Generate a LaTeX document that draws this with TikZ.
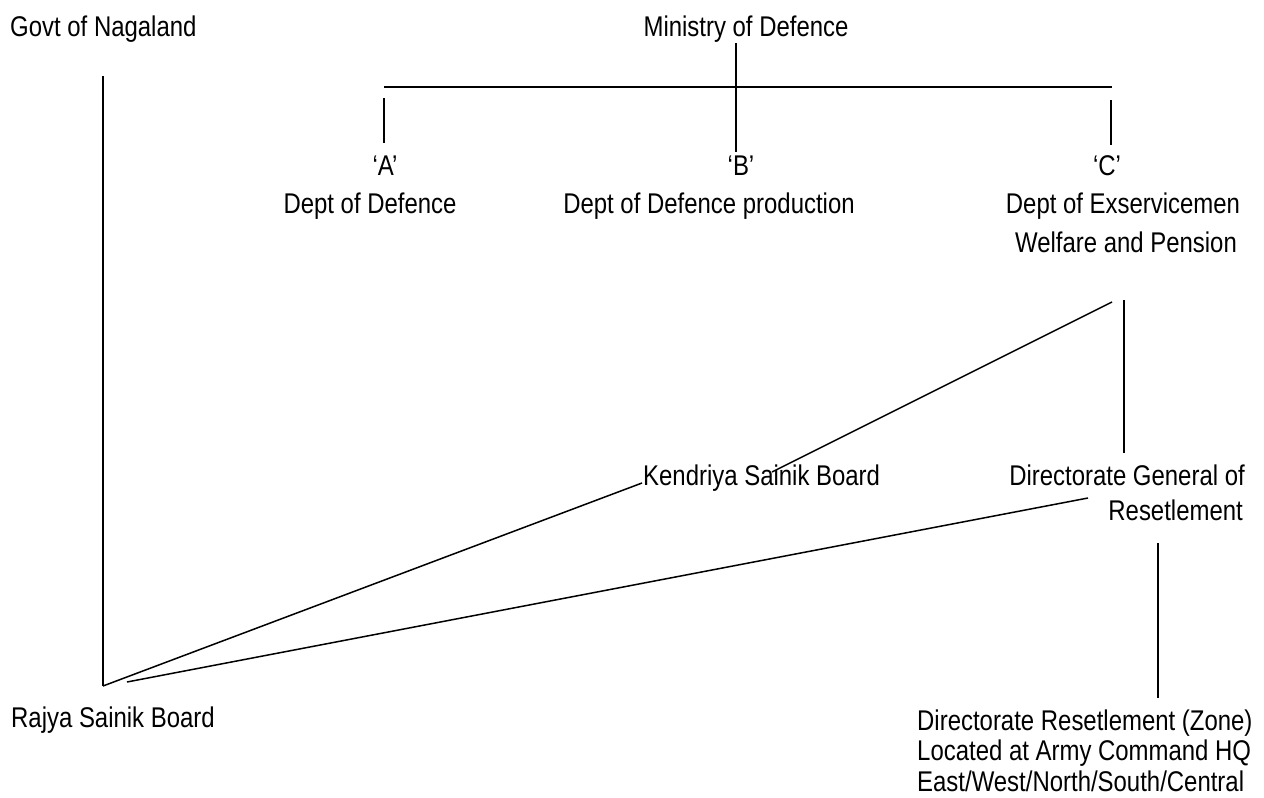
\documentclass[tikz,border=0pt]{standalone}
\usepackage{fontspec}
\setmainfont[FakeStretch=0.84]{Liberation Sans}
\begin{document}
\begin{tikzpicture}[x=1pt,y=-1pt,
  txt/.style={inner sep=0pt, font=\fontsize{28.5}{30}\selectfont},
  conn/.style={line width=1.5pt, line cap=butt}]
\useasboundingbox (0,0) rectangle (1264,798);
% texts
\node[txt, anchor=base west] (govt) at (10,36) {Govt of Nagaland};
\node[txt, anchor=base] (mod) at (746,36) {Ministry of Defence};
\node[txt, anchor=base] (qa) at (385,175) {‘A’};
\node[txt, anchor=base] (dd) at (370,213) {Dept of Defence};
\node[txt, anchor=base] (qb) at (741,175) {‘B’};
\node[txt, anchor=base] (ddp) at (709,213) {Dept of Defence production};
\node[txt, anchor=base] (qc) at (1107,175) {‘C’};
\node[txt, anchor=base] (dew) at (1123,213) {Dept of Exservicemen};
\node[txt, anchor=base] (wp) at (1126,252) {Welfare and Pension};
\node[txt, anchor=base west] (ksb) at (643,485) {Kendriya Sainik Board};
\node[txt, anchor=base east] (dgr1) at (1245,485) {Directorate General of};
\node[txt, anchor=base east] (dgr2) at (1243,520) {Resetlement};
\node[txt, anchor=base west] (rsb) at (11,727) {Rajya Sainik Board};
\node[txt, anchor=base west] (drz1) at (917,730) {Directorate Resetlement (Zone)};
\node[txt, anchor=base west] (drz2) at (917,760) {Located at Army Command HQ};
\node[txt, anchor=base west] (drz3) at (917,791) {East/West/North/South/Central};
% connector end points
\coordinate (govtL) at (103,76);
\coordinate (rsbA) at (103,686);
\coordinate (rsbB) at (127,682);
\coordinate (modL) at (736,43);
\coordinate (qbT) at (736,152);
\coordinate (barL) at (384,87);
\coordinate (barR) at (1112,87);
\coordinate (qaT1) at (384,98);
\coordinate (qaT2) at (384,143);
\coordinate (qcT1) at (1111,100);
\coordinate (qcT2) at (1111,145);
\coordinate (wpV1) at (1124,300);
\coordinate (wpV2) at (1124,453);
\coordinate (wpD) at (1112,302);
\coordinate (ksbIn) at (772,472);
\coordinate (ksbL) at (642,483);
\coordinate (dgrL) at (1088,498);
\coordinate (dgrV1) at (1158,543);
\coordinate (drzV) at (1158,698);
% connectors
\draw[conn] (govtL) -- (rsbA);
\draw[conn] (modL) -- (qbT);
\draw[conn] (barL) -- (barR);
\draw[conn] (qaT1) -- (qaT2);
\draw[conn] (qcT1) -- (qcT2);
\draw[conn] (wpV1) -- (wpV2);
\draw[conn] (wpD) -- (ksbIn);
\draw[conn] (ksbL) -- (rsbA);
\draw[conn] (dgrL) -- (rsbB);
\draw[conn] (dgrV1) -- (drzV);
\end{tikzpicture}
\end{document}
